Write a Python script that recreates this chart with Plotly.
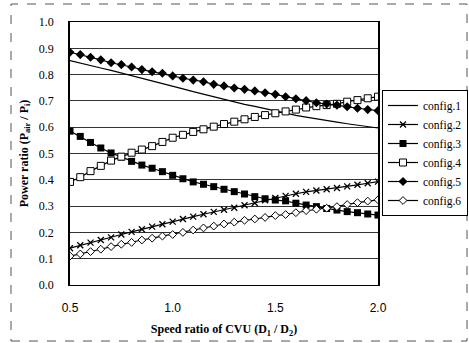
import plotly.graph_objects as go

speed_ratio = [0.50, 0.55, 0.60, 0.65, 0.70, 0.75, 0.80, 0.85, 0.90, 0.95,
               1.00, 1.05, 1.10, 1.15, 1.20, 1.25, 1.30, 1.35, 1.40, 1.45,
               1.50, 1.55, 1.60, 1.65, 1.70, 1.75, 1.80, 1.85, 1.90, 1.95, 2.00]

config1 = [0.853, 0.843, 0.834, 0.825, 0.816, 0.806, 0.796, 0.787, 0.778, 0.768,
           0.757, 0.746, 0.735, 0.725, 0.715, 0.705, 0.696, 0.687, 0.679, 0.670,
           0.662, 0.653, 0.645, 0.638, 0.631, 0.625, 0.619, 0.613, 0.607, 0.602, 0.597]
config2 = [0.140, 0.151, 0.161, 0.171, 0.181, 0.192, 0.202, 0.212, 0.222, 0.231,
           0.241, 0.251, 0.260, 0.269, 0.278, 0.286, 0.294, 0.303, 0.312, 0.322,
           0.331, 0.339, 0.347, 0.354, 0.359, 0.364, 0.369, 0.375, 0.381, 0.387, 0.393]
config3 = [0.585, 0.565, 0.542, 0.521, 0.502, 0.487, 0.470, 0.456, 0.444, 0.431,
           0.417, 0.404, 0.392, 0.383, 0.374, 0.364, 0.355, 0.346, 0.336, 0.328,
           0.323, 0.320, 0.311, 0.304, 0.298, 0.291, 0.285, 0.279, 0.275, 0.270, 0.266]
config4 = [0.392, 0.410, 0.433, 0.453, 0.473, 0.488, 0.503, 0.515, 0.528, 0.544,
           0.560, 0.571, 0.582, 0.592, 0.602, 0.612, 0.621, 0.630, 0.639, 0.646,
           0.653, 0.660, 0.667, 0.675, 0.680, 0.684, 0.689, 0.697, 0.703, 0.710, 0.716]
config5 = [0.885, 0.876, 0.866, 0.856, 0.845, 0.838, 0.829, 0.819, 0.811, 0.805,
           0.795, 0.786, 0.779, 0.773, 0.763, 0.757, 0.749, 0.744, 0.738, 0.731,
           0.725, 0.716, 0.708, 0.701, 0.693, 0.688, 0.684, 0.678, 0.672, 0.667, 0.663]
config6 = [0.110, 0.118, 0.127, 0.136, 0.146, 0.155, 0.162, 0.171, 0.178, 0.186,
           0.192, 0.200, 0.209, 0.217, 0.224, 0.232, 0.239, 0.246, 0.251, 0.257,
           0.264, 0.268, 0.275, 0.283, 0.288, 0.292, 0.298, 0.306, 0.313, 0.319, 0.324]

names = ["config.1", "config.2", "config.3", "config.4", "config.5", "config.6"]
series = [config1, config2, config3, config4, config5, config6]
y_ticks = [0.0, 0.1, 0.2, 0.3, 0.4, 0.5, 0.6, 0.7, 0.8, 0.9, 1.0]
y_tick_labels = ["0.0", "0.1", "0.2", "0.3", "0.4", "0.5", "0.6", "0.7", "0.8", "0.9", "1.0"]
x_ticks = [0.5, 1.0, 1.5, 2.0]
x_tick_labels = ["0.5", "1.0", "1.5", "2.0"]

styles = [
    dict(mode="lines", marker=None),
    dict(mode="lines+markers", marker=dict(symbol="x-thin", size=6, color="black",
                                           line=dict(color="black", width=1.3))),
    dict(mode="lines+markers", marker=dict(symbol="square", size=7, color="black")),
    dict(mode="lines+markers", marker=dict(symbol="square", size=7, color="white",
                                           line=dict(color="black", width=1))),
    dict(mode="lines+markers", marker=dict(symbol="diamond", size=7, color="black")),
    dict(mode="lines+markers", marker=dict(symbol="diamond", size=6, color="white",
                                           line=dict(color="black", width=1))),
]

fig = go.Figure()
for name, vals, st in zip(names, series, styles):
    kw = dict(x=speed_ratio, y=vals, name=name, mode=st["mode"],
              line=dict(color="black", width=1.2))
    if st["marker"] is not None:
        kw["marker"] = st["marker"]
    fig.add_trace(go.Scatter(**kw))

W, H = 469, 343
L, R, T, B = 70, 91, 22, 58
pw, ph = W - L - R, H - T - B

def px_x(p):
    return (p - L) / pw

def px_y(p):
    return (H - B - p) / ph

fig.update_layout(
    width=W, height=H,
    margin=dict(l=L, r=R, t=T, b=B, pad=0, autoexpand=False),
    paper_bgcolor="white", plot_bgcolor="white",
    font=dict(family="Liberation Serif", size=12, color="black"),
    showlegend=True,
    legend=dict(x=px_x(382), y=px_y(90), xanchor="left", yanchor="top",
                bordercolor="black", borderwidth=1, bgcolor="white",
                font=dict(family="Liberation Serif", size=11.5),
                itemwidth=30, tracegroupgap=0),
    xaxis=dict(range=[0.5, 2.0], tickvals=x_ticks, ticktext=x_tick_labels,
               showgrid=False, zeroline=False, showline=True, linecolor="black",
               linewidth=1, mirror=True, ticks="", ticklabelstandoff=12,
               tickfont=dict(family="Liberation Sans", size=12),
               title=dict(text="<b>Speed ratio of CVU (D<sub>1</sub> / D<sub>2</sub>)</b>",
                          font=dict(family="Liberation Serif", size=12), standoff=10)),
    yaxis=dict(range=[0, 1.0], tickvals=y_ticks, ticktext=y_tick_labels,
               showgrid=True, gridcolor="#333333", gridwidth=1,
               zeroline=False, showline=True, linecolor="black", linewidth=1.5,
               mirror=True, ticks="", ticklabelstandoff=12,
               tickfont=dict(family="Liberation Serif", size=12),
               title=dict(text="<b>Power ratio (P<sub>air</sub> / P<sub>i</sub>)</b>",
                          font=dict(family="Liberation Serif", size=12), standoff=8)),
    shapes=[dict(type="rect", xref="paper", yref="paper",
                 x0=px_x(11), x1=px_x(467), y0=px_y(341), y1=px_y(4),
                 line=dict(color="#555555", width=1, dash="dash"),
                 fillcolor="rgba(0,0,0,0)", layer="below")],
)

fig.write_html("out.html")
